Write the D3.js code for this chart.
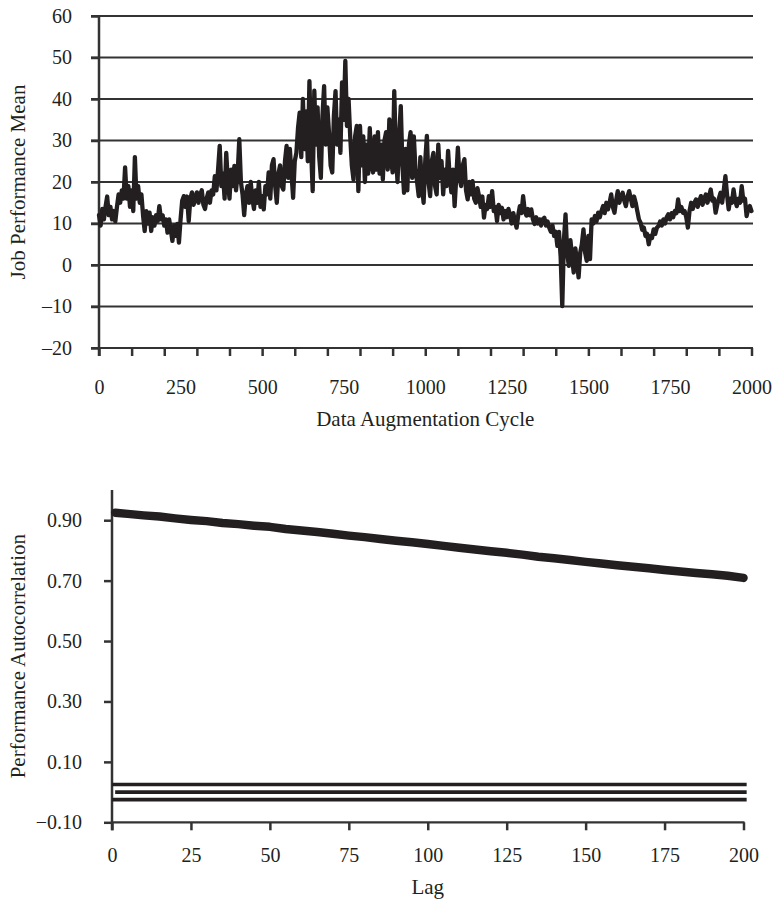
<!DOCTYPE html>
<html>
<head>
<meta charset="utf-8">
<script src="https://cdn.jsdelivr.net/npm/d3@7"></script>
<style>
  body { margin: 0; background: #fff; }
  text { font-family: 'Liberation Serif', 'Times New Roman', serif; fill: #231f20; }
</style>
</head>
<body>
<div id="chart"></div>
<script>
// top panel: job performance mean, one value every 5 cycles (0..2000)
const cycles = d3.range(0, 2001, 5);
const jobMean = [
  12,9.5,13.5,11,14,16.5,12,14,11,13,
  10.5,14,17,15,18,16,23.5,16,19,14,
  18,13,26,16,19,15,17,12,8.2,13,
  10,12.6,8.2,11.5,9.5,12,10.6,14.2,11,12,
  9.5,11,7.8,11,8.5,5.8,9.5,7,9.9,5.4,
  11,15.5,16.6,14,16.5,10.6,16,17.5,14.5,16,
  17.5,15,17,18,14.5,13.5,16,17.5,15,18,
  17,21.4,18,23,28.7,19,22,16,27,20,
  16,23,19,23.9,18,22,30.3,20,17,12,
  17,19,15,20,16,13.5,18,15,20,14,
  16.6,13.4,19,17,22.3,16,24,25.5,19,15,
  22,24,19,18.2,25,28.7,21,28,22,16.2,
  25,27,33,36.7,26,40,27.9,37,25,44.3,
  28,17.8,42,29,38,26,21,36,43.1,29,
  38,31.9,24,22.3,36,41.9,29,35,27,44,
  35,49.2,33.5,40,31,24,20.6,31,33.5,17.8,
  33.5,24,31,20,29,22,33,24,22.3,31,
  23,32,22,29,20.6,30,32,23,35.1,26,
  22.3,41.9,27,20,31,38.3,24,17.4,28,18,
  29,32,21,31,23,20,16.6,26,19,15,
  25,31.1,20,16.6,25,27,19,17,29,21,
  25,17,23,19,27.5,21,17.5,23,14.2,21,
  28.3,21,19,24,25.5,18,15.8,20,17,20.2,
  16,15,18.5,16.5,14,16.5,11.4,14.5,13.5,16.6,
  14,17.8,13,14,10.6,14.5,12.5,13.8,11,13,
  11.5,13.5,12,10,12.5,10.5,9,12,14.2,12.5,
  16.6,13,11.9,13.5,12,13.4,11,9.9,11.5,10,
  11,9.5,11,11.4,9.5,10.5,9,8,9.5,7,
  8,4.6,8,2,-9.9,6,12.2,3,-0.2,6,
  2,-1.8,4,1,-3,3,5,8.6,3,1,
  7,1.4,11,10,11.8,10.5,12.6,11.5,13,14.2,
  12.5,15,13.4,15,17,14,12.6,15.5,17.8,15,
  16.5,17.4,15.5,14.2,16.5,17.8,16,14.2,16.5,15,
  13,11,10.2,8.5,9,7,7.5,5,7,6.5,
  8.6,7.5,9,9.4,10.5,9.5,11,10,11.5,12.2,
  11,12.5,11.5,13,12.5,15.8,13,14,12.6,13,
  11.5,9,13,15,13.5,15,15.8,14,15.5,16.6,
  14.5,16,17,15,16.5,18.2,15.5,16,12.6,14.5,
  16,17.4,15,18,21.4,17,13.4,16,15,18.2,
  15.5,14.2,16,15,19,15.5,16,11.8,13.5,14.2,
  13
];
const topYTicks = [-20, -10, 0, 10, 20, 30, 40, 50, 60];
const topXTicks = d3.range(0, 2001, 100);
const topXLabels = [0, 250, 500, 750, 1000, 1250, 1500, 1750, 2000];

// bottom panel: autocorrelation by lag
const lags = [1,5,10,15,20,25,30,35,40,45,50,55,60,65,70,75,80,85,90,95,100,
  105,110,115,120,125,130,135,140,145,150,155,160,165,170,175,180,185,190,195,200];
const autocorr = [0.925,0.921,0.916,0.912,0.906,0.901,0.897,0.891,0.887,0.882,0.878,
  0.871,0.866,0.861,0.855,0.849,0.844,0.838,0.832,0.827,0.821,
  0.815,0.809,0.803,0.797,0.792,0.786,0.779,0.774,0.768,0.762,
  0.757,0.751,0.746,0.741,0.735,0.730,0.725,0.721,0.716,0.709];
const bandLags = [0, 201];
const bandValues = [0.025, 0, -0.025];
const botYTicks = [-0.10, 0.10, 0.30, 0.50, 0.70, 0.90];
const botXTicks = [0, 25, 50, 75, 100, 125, 150, 175, 200];

const ink = '#231f20';
const width = 776;
const height = 900;
const fmtDash = s => s.replace('-', '\u2013');

const svg = d3.select('#chart')
  .append('svg')
  .attr('width', width)
  .attr('height', height);

// ---------- top chart ----------
const x = d3.scaleLinear().domain([0, 2000]).range([99, 751.5]);
const y = d3.scaleLinear().domain([-20, 60]).range([348, 16]);

svg.append('g')
  .selectAll('line')
  .data(topYTicks)
  .enter()
  .append('line')
  .attr('x1', 91)
  .attr('x2', 753)
  .attr('y1', d => y(d))
  .attr('y2', d => y(d))
  .attr('stroke', '#333')
  .attr('stroke-width', 2.2);

svg.append('g')
  .attr('transform', `translate(${x(0)},0)`)
  .call(d3.axisLeft(y).tickValues(topYTicks).tickSize(8).tickPadding(19)
    .tickFormat(d => fmtDash(String(d))));

svg.append('g')
  .attr('transform', `translate(0,${y(-20)})`)
  .call(d3.axisBottom(x).tickValues(topXTicks).tickSize(8).tickFormat(''));

svg.append('g')
  .attr('transform', `translate(0,${y(-20)})`)
  .call(d3.axisBottom(x).tickValues(topXLabels).tickSize(0).tickPadding(32)
    .tickFormat(d3.format('d')));

svg.append('line')
  .attr('x1', x(0)).attr('x2', x(0))
  .attr('y1', y(60)).attr('y2', y(-20) + 8)
  .attr('stroke', '#333')
  .attr('stroke-width', 2.5);

const line = d3.line()
  .x((d, i) => x(cycles[i]))
  .y(d => y(d));

svg.append('path')
  .datum(jobMean)
  .attr('fill', 'none')
  .attr('stroke', ink)
  .attr('stroke-width', 4.3)
  .attr('stroke-linejoin', 'round')
  .attr('stroke-linecap', 'round')
  .attr('d', line);

svg.append('text')
  .attr('x', (x(0) + x(2000)) / 2)
  .attr('y', 426)
  .attr('text-anchor', 'middle')
  .attr('font-size', '21px')
  .text('Data Augmentation Cycle');

svg.append('text')
  .attr('transform', `translate(25,${(y(60) + y(-20)) / 2}) rotate(-90)`)
  .attr('text-anchor', 'middle')
  .attr('font-size', '21px')
  .text('Job Performance Mean');

// ---------- bottom chart ----------
const x2 = d3.scaleLinear().domain([0, 200]).range([112, 743.5]);
const y2 = d3.scaleLinear().domain([-0.1, 1.0]).range([822.3, 490]);

svg.append('g')
  .attr('transform', `translate(${x2(0)},0)`)
  .call(d3.axisLeft(y2).tickValues(botYTicks).tickSize(8).tickPadding(22)
    .tickFormat(d => fmtDash(d3.format('.2f')(d))));

svg.append('g')
  .attr('transform', `translate(0,${y2(-0.1)})`)
  .call(d3.axisBottom(x2).tickValues(botXTicks).tickSize(8).tickPadding(18)
    .tickFormat(d3.format('d')));

svg.append('line')
  .attr('x1', x2(0)).attr('x2', x2(0))
  .attr('y1', y2(1.0)).attr('y2', y2(-0.1) + 8)
  .attr('stroke', '#333')
  .attr('stroke-width', 2.5);

svg.append('line')
  .attr('x1', x2(0)).attr('x2', x2(200) + 1)
  .attr('y1', y2(-0.1)).attr('y2', y2(-0.1))
  .attr('stroke', '#333')
  .attr('stroke-width', 2.2);

svg.append('g')
  .selectAll('line')
  .data(bandValues)
  .enter()
  .append('line')
  .attr('x1', d => d === 0 ? x2(1) : x2(bandLags[0]))
  .attr('x2', x2(bandLags[1]))
  .attr('y1', d => y2(d))
  .attr('y2', d => y2(d))
  .attr('stroke', ink)
  .attr('stroke-width', 3.6);

const line2 = d3.line()
  .x((d, i) => x2(lags[i]))
  .y(d => y2(d));

svg.append('path')
  .datum(autocorr)
  .attr('fill', 'none')
  .attr('stroke', ink)
  .attr('stroke-width', 8.5)
  .attr('stroke-linejoin', 'round')
  .attr('stroke-linecap', 'round')
  .attr('d', line2);

svg.append('text')
  .attr('x', x2(100))
  .attr('y', 894)
  .attr('text-anchor', 'middle')
  .attr('font-size', '21px')
  .text('Lag');

svg.append('text')
  .attr('transform', `translate(25,${(y2(1.0) + y2(-0.1)) / 2}) rotate(-90)`)
  .attr('text-anchor', 'middle')
  .attr('font-size', '21px')
  .text('Performance Autocorrelation');

// axis styling
svg.selectAll('.domain').remove();
svg.selectAll('.tick line').attr('stroke', '#333').attr('stroke-width', 2.5);
svg.selectAll('.tick text')
  .attr('font-size', '20px')
  .attr('font-family', "'Liberation Serif', serif")
  .attr('fill', ink);
</script>
</body>
</html>
